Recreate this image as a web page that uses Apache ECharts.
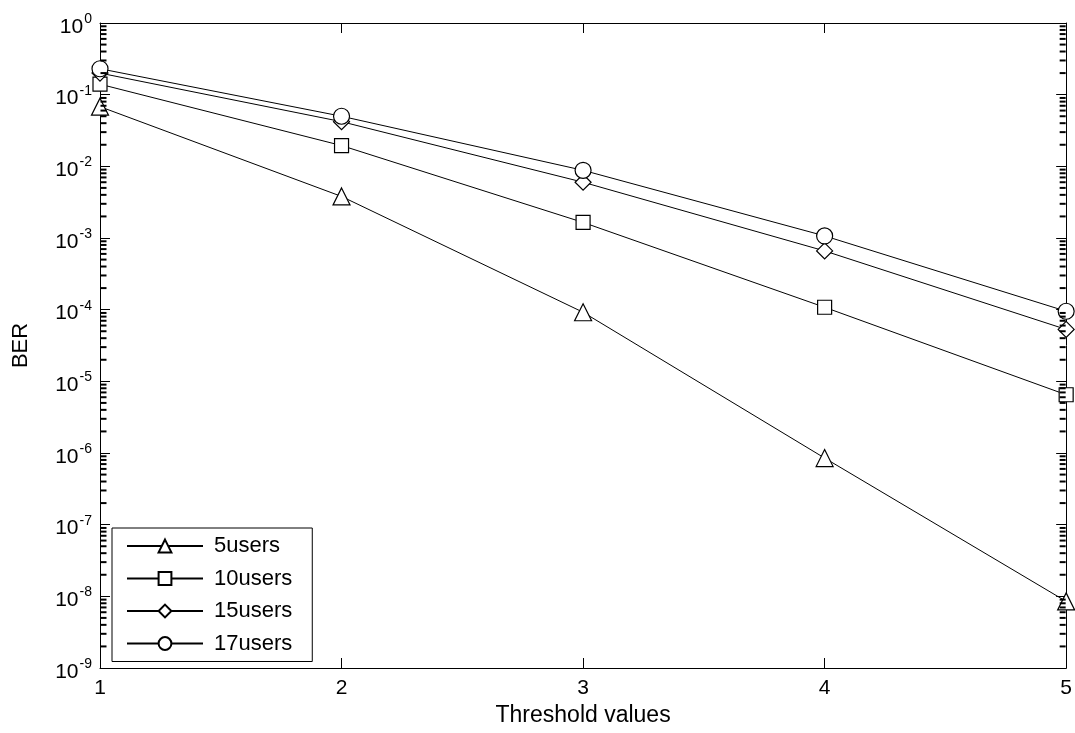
<!DOCTYPE html>
<html>
<head>
<meta charset="utf-8">
<script src="https://cdn.jsdelivr.net/npm/echarts@6/dist/echarts.min.js"></script>
<style>
  html, body { margin: 0; padding: 0; background: #fff; }
  #content { width: 1075px; height: 733px; }
</style>
</head>
<body>
<div id="content"></div>
<script>
  // threshold values on the x axis
  var thresholds = [1, 2, 3, 4, 5];
  // BER
  var users5  = [0.068, 0.0038, 9.2e-5, 8.5e-7, 8.5e-9];
  var users10 = [0.14, 0.0195, 1.65e-3, 1.08e-4, 6.5e-6];
  var users15 = [0.2, 0.042, 6.0e-3, 6.6e-4, 5.3e-5];
  var users17 = [0.23, 0.05, 8.8e-3, 1.07e-3, 9.5e-5];
  var seriesNames = ['5users', '10users', '15users', '17users'];
  var markers = ['triangle', 'rect', 'diamond', 'circle'];
  var markerSizes = [17, 14, 16, 16];
  // minor tick mantissas inside each decade
  var minorMantissas = [2, 3, 4, 5, 6, 7, 8, 9];
  var decades = [-9, -8, -7, -6, -5, -4, -3, -2, -1];

  var font = "'Liberation Sans', Arial, sans-serif";
  var chart = echarts.init(document.getElementById('content'));

  var minorLeft = [], minorRight = [];
  decades.forEach(function (d) {
    minorMantissas.forEach(function (m) {
      minorLeft.push([1, m * Math.pow(10, d)]);
      minorRight.push([5, m * Math.pow(10, d)]);
    });
  });

  function pairs(vals) {
    return thresholds.map(function (x, i) { return [x, vals[i]]; });
  }

  var allData = [users5, users10, users15, users17];
  var series = allData.map(function (vals, i) {
    return {
      name: seriesNames[i],
      type: 'line',
      data: pairs(vals),
      symbol: markers[i],
      symbolSize: markerSizes[i],
      showAllSymbol: true,
      clip: false,
      z: 3,
      lineStyle: { color: '#000', width: 1 },
      itemStyle: { color: '#fff', borderColor: '#000', borderWidth: 1.2 },
      animation: false
    };
  });

  // minor log ticks drawn as short dashes on both vertical axes
  series.push({
    name: 'minorL',
    type: 'scatter',
    silent: true,
    data: minorLeft,
    symbol: 'rect',
    symbolSize: [6, 2],
    symbolOffset: [3.5, 0],
    itemStyle: { color: '#000', opacity: 1 },
    z: 5
  });
  series.push({
    name: 'minorR',
    type: 'scatter',
    silent: true,
    data: minorRight,
    symbol: 'rect',
    symbolSize: [6, 2],
    symbolOffset: [-3.5, 0],
    itemStyle: { color: '#000', opacity: 1 },
    z: 5
  });

  chart.setOption({
    backgroundColor: '#fff',
    animation: false,
    grid: { left: 100, right: 5, top: 23, bottom: 65, show: false },
    legend: {
      orient: 'vertical',
      left: 112,
      top: 528,
      padding: [7, 20, 7, 14],
      itemWidth: 76,
      itemHeight: 16,
      itemGap: 10.5,
      borderColor: '#000',
      borderWidth: 1,
      backgroundColor: '#fff',
      data: seriesNames,
      textStyle: { fontFamily: font, fontSize: 22, color: '#000', padding: [0, 0, 0, 6] }
    },
    xAxis: [{
      type: 'value',
      min: 1,
      max: 5,
      interval: 1,
      position: 'bottom',
      name: 'Threshold values',
      nameLocation: 'middle',
      nameGap: 28,
      nameTextStyle: { fontFamily: font, fontSize: 23, color: '#000' },
      axisLine: { lineStyle: { color: '#000', width: 1 } },
      axisTick: { inside: true, length: 10, lineStyle: { color: '#000' } },
      axisLabel: { fontFamily: font, fontSize: 21, color: '#000', margin: 10 },
      splitLine: { show: false }
    }, {
      type: 'value',
      min: 1,
      max: 5,
      interval: 1,
      position: 'top',
      axisLine: { lineStyle: { color: '#000', width: 1 } },
      axisTick: { inside: true, length: 10, lineStyle: { color: '#000' } },
      axisLabel: { show: false },
      splitLine: { show: false }
    }],
    yAxis: [{
      type: 'log',
      logBase: 10,
      min: 1e-9,
      max: 1,
      interval: 1,
      position: 'left',
      name: 'BER',
      nameLocation: 'middle',
      nameRotate: 90,
      nameGap: 68,
      nameTextStyle: { fontFamily: font, fontSize: 22, color: '#000' },
      axisLine: { lineStyle: { color: '#000', width: 1 } },
      axisTick: { inside: true, length: 10, lineStyle: { color: '#000' } },
      axisLabel: {
        margin: 8,
        formatter: function (v) {
          var e = Math.round(Math.log10(v));
          return '{b|10}{s|' + e + '}';
        },
        rich: {
          b: { fontFamily: font, fontSize: 21, color: '#000', padding: [8, 0, 0, 0] },
          s: { fontFamily: font, fontSize: 14, color: '#000', padding: [0, 0, 8, 1] }
        }
      },
      splitLine: { show: false }
    }, {
      type: 'log',
      logBase: 10,
      min: 1e-9,
      max: 1,
      interval: 1,
      position: 'right',
      axisLine: { lineStyle: { color: '#000', width: 1 } },
      axisTick: { inside: true, length: 10, lineStyle: { color: '#000' } },
      axisLabel: { show: false },
      splitLine: { show: false }
    }],
    series: series
  });
</script>
</body>
</html>
